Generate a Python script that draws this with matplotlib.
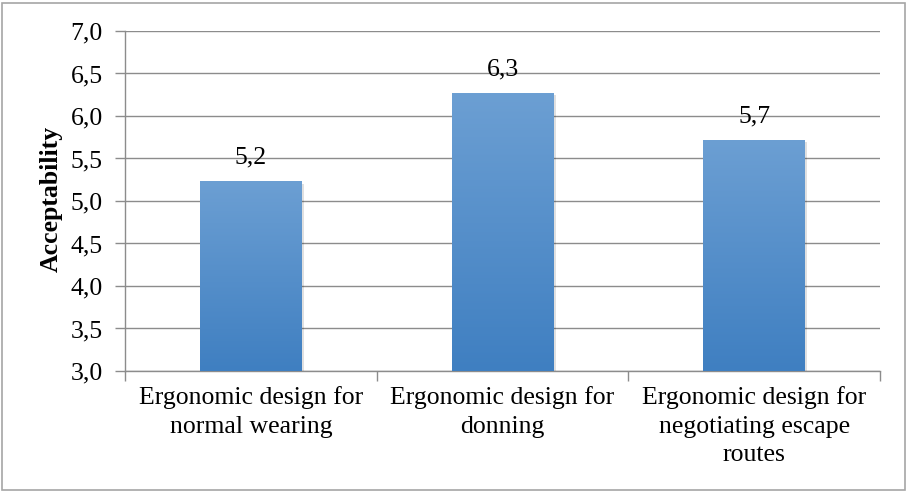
import numpy as np
import matplotlib
matplotlib.use("Agg")
import matplotlib.pyplot as plt
from matplotlib.colors import LinearSegmentedColormap
from matplotlib.patches import Rectangle
import matplotlib.transforms as mtransforms

categories = ["Ergonomic design for\nnormal wearing",
              "Ergonomic design for\ndonning",
              "Ergonomic design for\nnegotiating escape\nroutes"]
values = [5.23, 6.27, 5.72]
y_ticks = [3.0, 3.5, 4.0, 4.5, 5.0, 5.5, 6.0, 6.5, 7.0]

plt.rcParams['font.family'] = ['Liberation Serif', 'DejaVu Serif']

fig = plt.figure(figsize=(9.08, 4.93), dpi=100)
ax = fig.add_axes([125/908, 1-371/493, (880-125)/908, (371-31)/493])

# outer frame around the whole chart
fig.patches.append(Rectangle((2/908, 3/493), 903/908, 487/493, transform=fig.transFigure,
                             fill=False, edgecolor='#a6a6a6', linewidth=1.2))

grid_col = '#8c8c8c'
ax.set_ylim(3.0, 7.0)
ax.set_xlim(-0.5, 2.5)
ax.set_yticks(y_ticks)
ax.set_yticklabels([f"{t:.1f}".replace('.', ',') for t in y_ticks], fontsize=18.5)
ax.yaxis.grid(True, color=grid_col, linewidth=1)
ax.set_axisbelow(True)

x = np.arange(len(categories))
ax.set_xticks(x)
ax.set_xticklabels(categories, fontsize=18.5, linespacing=1.38)
ax.set_xticks([-0.5, 0.5, 1.5, 2.5], minor=True)
ax.tick_params(axis='x', which='major', length=0, pad=11)
ax.tick_params(axis='x', which='minor', length=7, color=grid_col, width=1)
ax.tick_params(axis='y', length=7, color=grid_col, width=1, pad=9)

for side in ['top', 'right']:
    ax.spines[side].set_visible(False)
for side in ['left', 'bottom']:
    ax.spines[side].set_color(grid_col)
    ax.spines[side].set_linewidth(1)

ax.set_ylabel("Acceptability", fontsize=18.5, fontweight='bold')
ax.yaxis.set_label_coords(-0.082, 0.505)

cmap = LinearSegmentedColormap.from_list("bar", ["#3f7fc1", "#6c9fd3"])
grad = np.linspace(0, 1, 256).reshape(-1, 1)

bars = ax.bar(x, [v - 3.0 for v in values], bottom=3.0, width=0.405,
              color='none', edgecolor='none', zorder=3)
for bar, v in zip(bars, values):
    bx, by = bar.get_x(), bar.get_y()
    bw, bh = bar.get_width(), bar.get_height()
    # soft drop shadow
    shadow_tr = ax.transData + mtransforms.ScaledTranslation(1.5/72, -1.5/72, fig.dpi_scale_trans)
    ax.add_patch(Rectangle((bx, by), bw, bh, transform=shadow_tr,
                           facecolor='#000000', alpha=0.12, edgecolor='none', zorder=2.5))
    im = ax.imshow(grad, cmap=cmap, aspect='auto', origin='lower',
                   extent=(bx, bx + bw, by, by + bh), zorder=3)
    im.set_clip_path(bar)
    ax.annotate(f"{v:.1f}".replace('.', ','), (bx + bw/2, by + bh),
                xytext=(0, 9), textcoords='offset points',
                ha='center', va='bottom', fontsize=18.5)

ax.set_xlim(-0.5, 2.5)
ax.set_ylim(3.0, 7.0)

fig.savefig("out.png", dpi=100)
